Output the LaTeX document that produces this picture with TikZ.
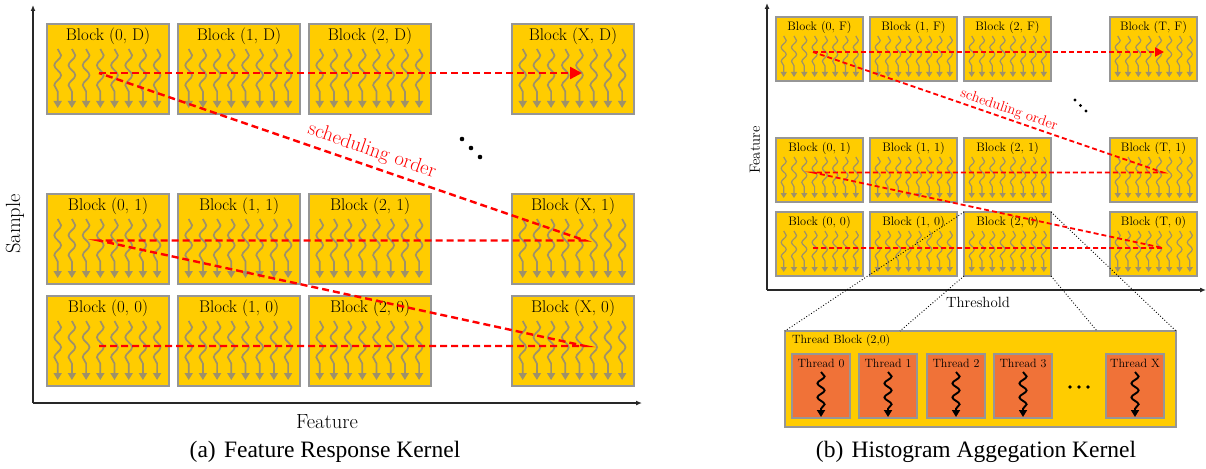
\documentclass[tikz,border=0pt]{standalone}
\usepackage{fontspec}
\newfontfamily\capfont{Liberation Serif}
\usetikzlibrary{decorations.pathmorphing,arrows.meta,calc}
\definecolor{yel}{RGB}{255,204,0}
\definecolor{bgray}{RGB}{150,150,150}
\definecolor{sqgray}{RGB}{158,145,105}
\definecolor{orng}{RGB}{240,114,56}
\definecolor{axcol}{RGB}{40,40,40}
\tikzset{
 lblock/.style={draw=bgray,line width=1.6pt,fill=yel,minimum width=122pt,minimum height=90pt,anchor=north west,inner sep=0pt,outer sep=0pt},
 rblock/.style={draw=bgray,line width=1.2pt,fill=yel,minimum width=87pt,minimum height=64pt,anchor=north west,inner sep=0pt,outer sep=0pt},
 ltxt/.style={font=\fontsize{16.9}{20}\selectfont,inner sep=0pt},
 rtxt/.style={font=\fontsize{12.3}{15}\selectfont,inner sep=0pt},
 lsq/.style={draw=sqgray,line width=1.7pt,decorate,decoration={snake,amplitude=3.4pt,segment length=20pt,post length=7pt},-{Triangle[length=7pt,width=8pt]}},
 rsq/.style={draw=sqgray,line width=1.2pt,decorate,decoration={snake,amplitude=2.5pt,segment length=14pt,post length=5pt},-{Triangle[length=5pt,width=6pt]}},
 tsq/.style={draw=black,line width=1.9pt,decorate,decoration={snake,amplitude=3.6pt,segment length=14pt,post length=7pt},-{Triangle[length=7pt,width=8pt]}},
 lred/.style={draw=red,line width=2.4pt,dash pattern=on 7pt off 4pt},
 rred/.style={draw=red,line width=1.8pt,dash pattern=on 5pt off 3pt},
 axis/.style={draw=axcol,line width=1.6pt,-{Latex[length=6pt,width=5pt]}},
 zoomln/.style={draw=black,line width=0.9pt,dotted},
 thrd/.style={draw=bgray,line width=1.2pt,fill=orng,minimum width=58pt,minimum height=64pt,anchor=north west,inner sep=0pt,outer sep=0pt},
 dotL/.style={fill=black,circle,inner sep=0pt,minimum size=4.6pt},
 dotR/.style={fill=black,circle,inner sep=0pt,minimum size=3.2pt},
 dotT/.style={fill=black,circle,inner sep=0pt,minimum size=3.6pt},
}
\newcommand\Lblk[4]{%
 \node[lblock] (#1) at (#2,#3) {};
 \node[ltxt] (#1t) at ($(#1.north)+(0,12.5)$) {#4};
 \foreach \k in {0,...,7} {\draw[lsq] ($(#1.north west)+(10.7+\k*14.2,25)$) -- ++(0,59);}
}
\newcommand\Rblk[4]{%
 \node[rblock] (#1) at (#2,#3) {};
 \node[rtxt] (#1t) at ($(#1.north)+(0,10)$) {#4};
 \foreach \k in {0,...,7} {\draw[rsq] ($(#1.north west)+(7.7+\k*10.3,19)$) -- ++(0,41);}
}
\newcommand\Thr[3]{%
 \node[thrd] (#1) at (#2,354) {};
 \node[font=\fontsize{12}{14}\selectfont,inner sep=0pt] (#1t) at ($(#1.north)+(0,9)$) {#3};
 \draw[tsq] ($(#1.north)+(0,18)$) -- ($(#1.north)+(0,63)$);
}
\begin{document}
\begin{tikzpicture}[x=1pt,y=-1pt]
\useasboundingbox (0,0) rectangle (1206,468);
% ---------- panel (a) ----------
\coordinate (aO) at (33,403);
\coordinate (aY) at (33,5);
\coordinate (aX) at (642,403);
\draw[axis] (aO) -- (aY);
\draw[axis] (aO) -- (aX);
\Lblk{aD0}{47}{24}{Block (0, D)}
\Lblk{aD1}{178}{24}{Block (1, D)}
\Lblk{aD2}{309}{24}{Block (2, D)}
\Lblk{aDX}{512}{24}{Block (X, D)}
\Lblk{a10}{47}{194}{Block (0, 1)}
\Lblk{a11}{178}{194}{Block (1, 1)}
\Lblk{a12}{309}{194}{Block (2, 1)}
\Lblk{a1X}{512}{194}{Block (X, 1)}
\Lblk{a00}{47}{296}{Block (0, 0)}
\Lblk{a01}{178}{296}{Block (1, 0)}
\Lblk{a02}{309}{296}{Block (2, 0)}
\Lblk{a0X}{512}{296}{Block (X, 0)}
\coordinate (aDs) at (99,73);
\coordinate (aDe) at (582,73);
\coordinate (a1s) at (99,240.5);
\coordinate (a1e) at (585,240.5);
\coordinate (a0s) at (99,346);
\coordinate (a0e) at (585,346);
\draw[lred] (a0s) -- (a0e) -- (a1s) -- (a1e) -- (aDs);
\draw[lred,-{Triangle[length=12pt,width=12pt]}] (aDs) -- (aDe);
\node[text=red,font=\fontsize{20.5}{24}\selectfont,rotate=-19,inner sep=0pt] (asch) at (372,151) {scheduling order};
\node[dotL] (ad1) at (462,139) {};
\node[dotL] (ad2) at (471,148) {};
\node[dotL] (ad3) at (480,157) {};
\node[font=\fontsize{20.5}{24}\selectfont,rotate=90,inner sep=0pt] (asmp) at (15,224) {Sample};
\node[font=\fontsize{20.5}{24}\selectfont,inner sep=0pt] (afeat) at (327,422) {Feature};
\node[font=\capfont\fontsize{23.5}{27}\selectfont,inner sep=0pt] (acap) at (325,452) {(a)\hspace{0.35em}Feature Response Kernel};
% ---------- panel (b) ----------
\coordinate (bO) at (767,290);
\coordinate (bY) at (767,3);
\coordinate (bX) at (1206,290);
\draw[axis,line width=1.4pt] (bO) -- (bY);
\draw[axis,line width=1.4pt] (bO) -- (bX);
\Rblk{bF0}{776}{17}{Block (0, F)}
\Rblk{bF1}{870}{17}{Block (1, F)}
\Rblk{bF2}{964}{17}{Block (2, F)}
\Rblk{bFT}{1110}{17}{Block (T, F)}
\Rblk{b10}{776}{138}{Block (0, 1)}
\Rblk{b11}{870}{138}{Block (1, 1)}
\Rblk{b12}{964}{138}{Block (2, 1)}
\Rblk{b1T}{1110}{138}{Block (T, 1)}
\Rblk{b00}{776}{212}{Block (0, 0)}
\Rblk{b01}{870}{212}{Block (1, 0)}
\Rblk{b02}{964}{212}{Block (2, 0)}
\Rblk{b0T}{1110}{212}{Block (T, 0)}
% thread block
\node[draw=bgray,line width=1.2pt,fill=yel,minimum width=391pt,minimum height=96pt,anchor=north west,inner sep=0pt,outer sep=0pt] (tb) at (785,331) {};
\coordinate (tbA) at (900,331);
\coordinate (tbB) at (1097,331);
\draw[zoomln] (b02.north west) -- (tb.north west);
\draw[zoomln] (b02.south west) -- (tbA);
\draw[zoomln] (b02.north east) -- (tb.north east);
\draw[zoomln] (b02.south east) -- (tbB);
\node[font=\fontsize{12}{14}\selectfont,anchor=west,inner sep=0pt] (tbt) at (792,341) {Thread Block (2,0)};
\Thr{t0}{792}{Thread 0}
\Thr{t1}{859}{Thread 1}
\Thr{t2}{927}{Thread 2}
\Thr{t3}{994}{Thread 3}
\Thr{tX}{1106}{Thread X}
\node[dotT] (td1) at (1070,387) {};
\node[dotT] (td2) at (1079,387) {};
\node[dotT] (td3) at (1088,387) {};
\coordinate (bFs) at (813,52);
\coordinate (bFe) at (1164,52);
\coordinate (b1s) at (813,172.5);
\coordinate (b1e) at (1163,172.5);
\coordinate (b0s) at (813,248);
\coordinate (b0e) at (1163,248);
\draw[rred] (b0s) -- (b0e) -- (b1s) -- (b1e) -- (bFs);
\draw[rred,-{Triangle[length=9pt,width=9pt]}] (bFs) -- (bFe);
\node[text=red,font=\fontsize{14.5}{17}\selectfont,rotate=-19,inner sep=0pt] (bsch) at (1009,110) {scheduling order};
\node[dotR] (bd1) at (1075,100) {};
\node[dotR] (bd2) at (1080.5,105.5) {};
\node[dotR] (bd3) at (1086,111) {};
\node[font=\fontsize{14.8}{17}\selectfont,rotate=90,inner sep=0pt] (bfeat) at (755,150) {Feature};
\node[font=\fontsize{14.8}{17}\selectfont,inner sep=0pt] (bthr) at (978,302) {Threshold};
\node[font=\capfont\fontsize{23.5}{27}\selectfont,inner sep=0pt] (bcap) at (976,452) {(b)\hspace{0.35em}Histogram Aggegation Kernel};
\end{tikzpicture}
\end{document}
